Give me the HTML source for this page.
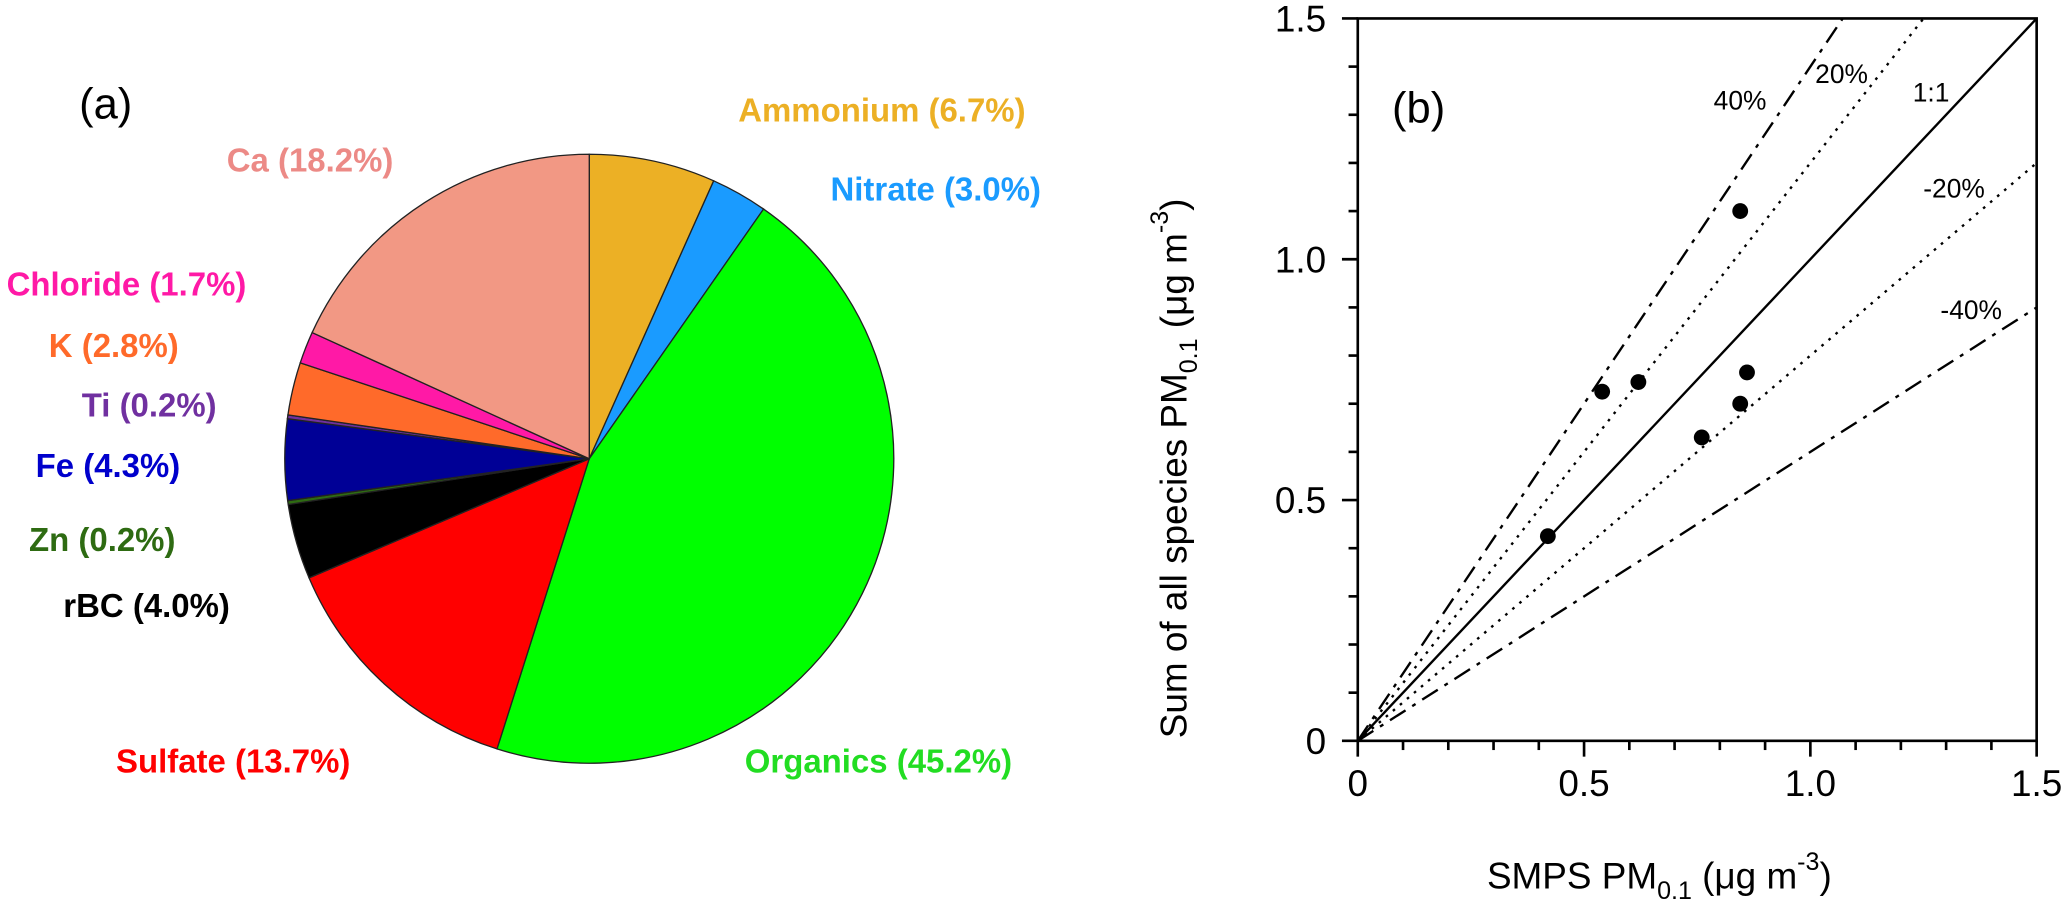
<!DOCTYPE html>
<html><head><meta charset="utf-8"><style>
html,body{margin:0;padding:0;background:#fff;overflow:hidden;}
svg{display:block;font-family:"Liberation Sans",Arial,sans-serif;}
</style></head><body>
<svg id="fig" width="2067" height="906" viewBox="0 0 1568 687.3" xmlns="http://www.w3.org/2000/svg">
<text x="60" y="90" font-size="33">(a)</text>
<text x="1056" y="93" font-size="33">(b)</text>
<g id="pie"></g>
<g id="scatter"></g>
<text x="1128" y="674" font-size="28">SMPS PM<tspan font-size="19" dy="8">0.1</tspan><tspan dy="-8"> (μg m</tspan><tspan font-size="19" dy="-14">-3</tspan><tspan dy="14">)</tspan></text>
<text transform="translate(900,560) rotate(-90)" font-size="28">Sum of all species PM<tspan font-size="19" dy="8">0.1</tspan><tspan dy="-8"> (μg m</tspan><tspan font-size="19" dy="-14">-3</tspan><tspan dy="14">)</tspan></text>
</svg>
<script>
const pieLabels=["Ammonium","Nitrate","Organics","Sulfate","rBC","Zn","Fe","Ti","K","Chloride","Ca"];
const pieValues=[6.7,3.0,45.2,13.7,4.0,0.2,4.3,0.2,2.8,1.7,18.2];
const pieColors=["#ecb025","#1a9bff","#00ff00","#ff0000","#000000","#2e6b12","#000096","#7030a0","#ff6a2a","#ff19a6","#f29884"];
const labelColors=["#ecb025","#1a9bff","#22dd22","#ff0000","#000000","#2e6b12","#0000cc","#7030a0","#ff6a2a","#ff19a6","#ec8a86"];
const labelPos=[[560,92],[630,152],[565,586],[88,586],[48,468],[22,418],[27,362],[62,316],[37,271],[5,224],[172,130]];

const sxVals=[0.42,0.54,0.62,0.845,0.76,0.845,0.86];
const syVals=[0.425,0.725,0.745,1.10,0.63,0.70,0.765];
const refSlopes=[1,1.2,0.8,1.4,0.6];
const refNames=["1:1","20%","-20%","40%","-40%"];
const refDash=["", "2,5", "2,5", "14,6,3,6", "14,6,3,6"];
const tickMajor=[0,0.5,1.0,1.5];
const tickMajorLabels=["0","0.5","1.0","1.5"];

const NS="http://www.w3.org/2000/svg";
function mk(tag,attrs,parent){const e=document.createElementNS(NS,tag);for(const k in attrs)e.setAttribute(k,attrs[k]);parent.appendChild(e);return e;}

const pie=document.getElementById('pie');
const cx=447,cy=348,R=231;
const total=pieValues.reduce((a,b)=>a+b,0);
let acc=0;
pieValues.forEach((v,i)=>{
  const a0=acc/total*2*Math.PI; acc+=v; const a1=acc/total*2*Math.PI;
  const x0=cx+R*Math.sin(a0),y0=cy-R*Math.cos(a0),x1=cx+R*Math.sin(a1),y1=cy-R*Math.cos(a1);
  const large=(a1-a0)>Math.PI?1:0;
  const p=mk('path',{d:`M${cx},${cy} L${x0},${y0} A${R},${R} 0 ${large} 1 ${x1},${y1} Z`,fill:pieColors[i],stroke:'#222','stroke-width':1},pie);
  
  
  const t=mk('text',{x:labelPos[i][0],y:labelPos[i][1],fill:labelColors[i],'font-size':25,'font-weight':'bold'},pie);
  t.textContent=pieLabels[i]+" ("+v.toFixed(1)+"%)";
  
  
});

const sc=document.getElementById('scatter');
const X0=1030,X1=1545,Y0=562,Y1=14,MAX=1.5;
const xs=v=>X0+(X1-X0)*v/MAX, ys=v=>Y0-(Y0-Y1)*v/MAX;
const clip=mk('clipPath',{id:'pc'},sc); mk('rect',{x:X0,y:Y1,width:X1-X0,height:Y0-Y1},clip);
refSlopes.forEach((s,i)=>{
  const xe=Math.min(MAX,MAX/s), ye=s*xe;
  const l=mk('line',{x1:xs(0),y1:ys(0),x2:xs(xe),y2:ys(ye),stroke:'#000','stroke-width':1.8,'stroke-dasharray':refDash[i],'clip-path':'url(#pc)'},sc);
  
  
});
const refLabelPos=[[1451,77],[1377,63],[1459,150],[1300,83],[1472,242]];
refNames.forEach((n,i)=>{
  const t=mk('text',{x:refLabelPos[i][0],y:refLabelPos[i][1],'font-size':20},sc);t.textContent=n;
  
  
});
mk('rect',{x:X0,y:Y1,width:X1-X0,height:Y0-Y1,fill:'none',stroke:'#000','stroke-width':2},sc);
for(let k=0;k<=15;k++){
  const v=k*0.1, maj=k%5===0, L=maj?12:7;
  mk('line',{x1:xs(v),y1:Y0,x2:xs(v),y2:Y0+L,stroke:'#000','stroke-width':2},sc);
  mk('line',{x1:X0,y1:ys(v),x2:X0-L,y2:ys(v),stroke:'#000','stroke-width':2},sc);
}
tickMajor.forEach((v,i)=>{
  const t=mk('text',{x:xs(v),y:Y0+42,'font-size':28,'text-anchor':'middle'},sc);t.textContent=tickMajorLabels[i];
  
  const u=mk('text',{x:X0-24,y:ys(v)+10,'font-size':28,'text-anchor':'end'},sc);u.textContent=tickMajorLabels[i];
  
});
sxVals.forEach((x,i)=>{
  const c=mk('circle',{cx:xs(x),cy:ys(syVals[i]),r:6,fill:'#000'},sc);
  
  
});
</script>
</body></html>
